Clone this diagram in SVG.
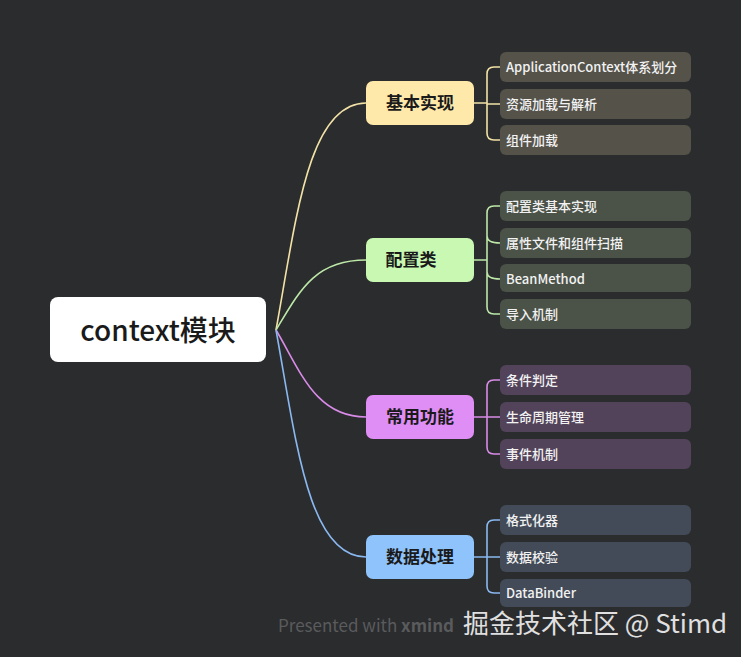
<svg xmlns="http://www.w3.org/2000/svg" width="741" height="657" viewBox="0 0 741 657">
<style>
text{font-family:"Noto Sans CJK SC","Noto Sans",sans-serif}
.leaf text{fill:#f2f2f2;font-size:13px;font-weight:500}
.br{font-size:17px;font-weight:700;fill:#1a1a1a}
.c{fill:none;stroke-width:1.6}
</style>
<rect width="741" height="657" fill="#2b2c2e"/>
<g id="connectors">
<path class="c" stroke="#f2e2a6" d="M276,330 C296,220 308,103 366,103"/>
<path class="c" stroke="#bde8a8" d="M276,330 C300,290 315,260 366,260"/>
<path class="c" stroke="#d98be8" d="M276,330 C300,370 315,417 366,417"/>
<path class="c" stroke="#8ab8f0" d="M276,330 C296,440 308,557 366,557"/>
<path class="c" stroke="#f2e2a6" d="M474,103 H487 M500,67 H494 Q487,67 487,74 V133 Q487,140 494,140 H500 M487,104 H500"/>
<path class="c" stroke="#bde8a8" d="M474,260 H487 M500,206 H494 Q487,206 487,213 V307 Q487,314 494,314 H500 M487,236 Q487,243 500,243 M487,272 Q487,279 500,279"/>
<path class="c" stroke="#d98be8" d="M474,417 H487 M500,380 H494 Q487,380 487,387 V447 Q487,454 494,454 H500 M487,417 H500"/>
<path class="c" stroke="#8ab8f0" d="M474,557 H487 M500,520 H494 Q487,520 487,527 V586 Q487,593 494,593 H500 M487,557 H500"/>
</g>
<g id="root"><rect x="50" y="297" width="216" height="65" rx="8" fill="#fff"/><text x="158" y="341" text-anchor="middle" font-size="28" font-weight="500" fill="#1a1a1a">context模块</text></g>
<g id="b1"><rect x="366" y="81" width="108" height="44" rx="7" fill="#ffe9aa"/><text class="br" x="420" y="109" text-anchor="middle">基本实现</text></g>
<g id="b2"><rect x="366" y="238" width="108" height="44" rx="7" fill="#c8f8b2"/><text class="br" x="411" y="266" text-anchor="middle">配置类</text></g>
<g id="b3"><rect x="366" y="395" width="108" height="44" rx="7" fill="#df8ef5"/><text class="br" x="420" y="423" text-anchor="middle">常用功能</text></g>
<g id="b4"><rect x="366" y="535" width="108" height="44" rx="7" fill="#8fc3fb"/><text class="br" x="420" y="563" text-anchor="middle">数据处理</text></g>
<g class="leaf">
<g id="l1"><rect x="500" y="52" width="191" height="30" rx="6" fill="#55524a"/><text x="506" y="72">ApplicationContext体系划分</text></g>
<g id="l2"><rect x="500" y="89" width="191" height="30" rx="6" fill="#55524a"/><text x="506" y="109">资源加载与解析</text></g>
<g id="l3"><rect x="500" y="125" width="191" height="30" rx="6" fill="#55524a"/><text x="506" y="145">组件加载</text></g>
<g id="l4"><rect x="500" y="191" width="191" height="30" rx="6" fill="#4b5248"/><text x="506" y="211">配置类基本实现</text></g>
<g id="l5"><rect x="500" y="228" width="191" height="30" rx="6" fill="#4b5248"/><text x="506" y="248">属性文件和组件扫描</text></g>
<g id="l6"><rect x="500" y="264" width="191" height="28" rx="6" fill="#4b5248"/><text x="506" y="284">BeanMethod</text></g>
<g id="l7"><rect x="500" y="299" width="191" height="30" rx="6" fill="#4b5248"/><text x="506" y="319">导入机制</text></g>
<g id="l8"><rect x="500" y="365" width="191" height="30" rx="6" fill="#52435a"/><text x="506" y="385">条件判定</text></g>
<g id="l9"><rect x="500" y="402" width="191" height="30" rx="6" fill="#52435a"/><text x="506" y="422">生命周期管理</text></g>
<g id="l10"><rect x="500" y="439" width="191" height="30" rx="6" fill="#52435a"/><text x="506" y="459">事件机制</text></g>
<g id="l11"><rect x="500" y="505" width="191" height="30" rx="6" fill="#424b57"/><text x="506" y="525">格式化器</text></g>
<g id="l12"><rect x="500" y="542" width="191" height="30" rx="6" fill="#424b57"/><text x="506" y="562">数据校验</text></g>
<g id="l13"><rect x="500" y="579" width="191" height="28" rx="6" fill="#424b57"/><text x="506" y="598">DataBinder</text></g>
</g>
<text x="278" y="632" font-size="17" fill="#5a5b5d">Presented with <tspan font-weight="700">xmind</tspan></text>
<text x="463" y="633" font-size="26" fill="#e0e0e0">掘金技术社区 @ Stimd</text>
</svg>
